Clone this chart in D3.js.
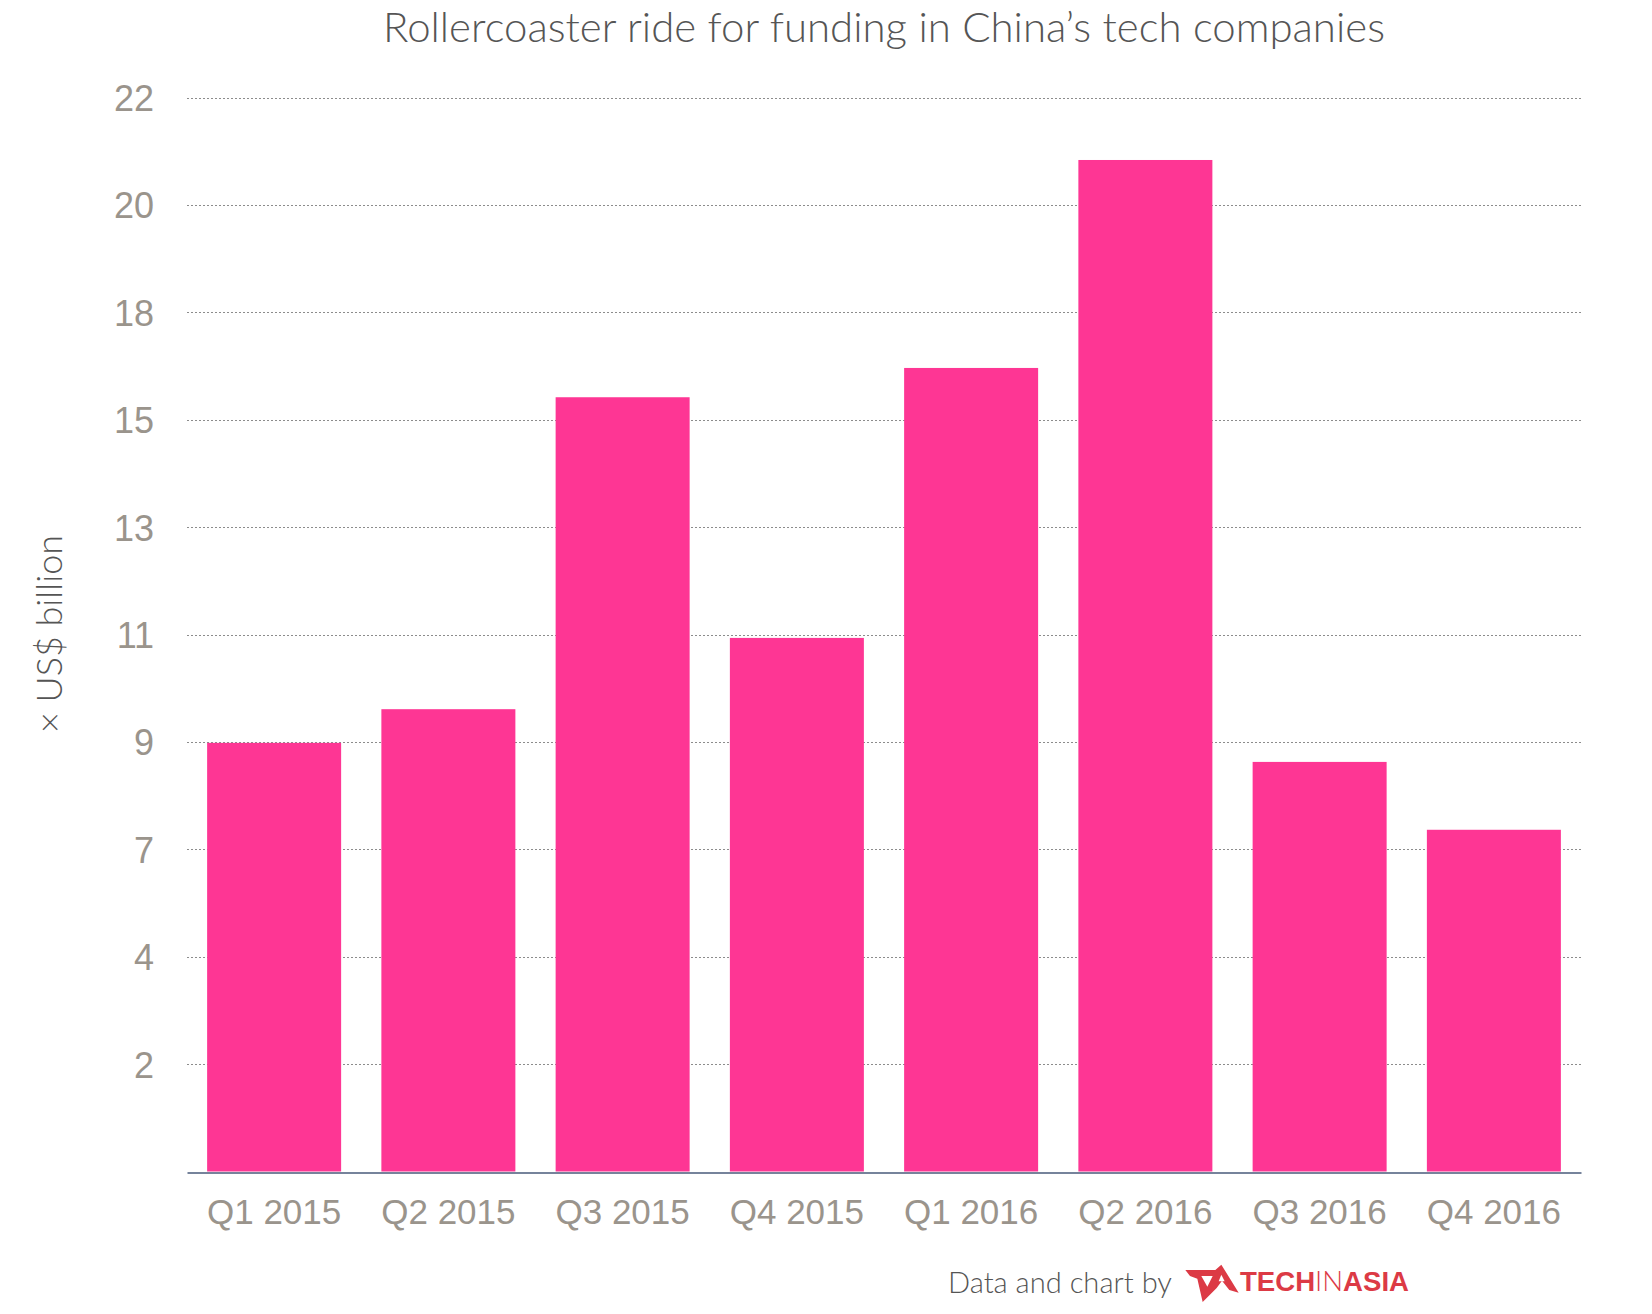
<!DOCTYPE html>
<html>
<head>
<meta charset="utf-8">
<script src="https://cdn.jsdelivr.net/npm/d3@7"></script>
<style>
  html, body { margin: 0; padding: 0; background: #fff; }
  svg { display: block; }
</style>
</head>
<body>
<svg id="chart" width="1652" height="1314"></svg>
<script>
// ---- data ----
const categories = ["Q1 2015", "Q2 2015", "Q3 2015", "Q4 2015", "Q1 2016", "Q2 2016", "Q3 2016", "Q4 2016"];
const fundingBillions = [8.78, 9.47, 15.86, 10.93, 16.46, 20.72, 8.39, 7.00];
const yTickValues = [2.2, 4.4, 6.6, 8.8, 11, 13.2, 15.4, 17.6, 19.8, 22];
const yTickLabels = ["2", "4", "7", "9", "11", "13", "15", "18", "20", "22"];
const titleText = "Rollercoaster ride for funding in China\u2019s tech companies";
const yAxisTitle = "\u00d7 US$ billion";
const creditText = "Data and chart by";

// ---- styles ----
const barColor = "#fe3694";
const tickColor = "#9a948c";
const textDark = "#555555";
const logoRed = "#dc3a45";
const gillLike = "Lato, 'Open Sans', sans-serif";
const helvLike = "'Liberation Sans', Arial, sans-serif";

const svg = d3.select("#chart");

const x = d3.scaleBand()
  .domain(categories)
  .range([187, 1581])
  .paddingInner(0.231)
  .paddingOuter(0.1155);

const y = d3.scaleLinear()
  .domain([0, 22])
  .range([1171.5, 97.5]);

function fitText(sel, targetWidth) {
  const node = sel.node();
  const fs = parseFloat(sel.attr("font-size"));
  const w = node.getComputedTextLength();
  if (w > 0) sel.attr("font-size", (fs * targetWidth / w).toFixed(2));
  return sel;
}

// gridlines
svg.append("g")
  .selectAll("line")
  .data(yTickValues)
  .join("line")
  .attr("x1", x.range()[0])
  .attr("x2", x.range()[1])
  .attr("y1", d => Math.round(y(d)) + 0.5)
  .attr("y2", d => Math.round(y(d)) + 0.5)
  .attr("stroke", "#8c8c8c")
  .attr("stroke-width", 1)
  .attr("stroke-dasharray", "2,2");

// y axis (labels only)
const yAxis = d3.axisLeft(y)
  .tickValues(yTickValues)
  .tickFormat((d, i) => yTickLabels[i])
  .tickSize(0)
  .tickPadding(0);
const yg = svg.append("g")
  .attr("transform", "translate(154,0)")
  .call(yAxis);
yg.select(".domain").remove();
yg.selectAll("text")
  .attr("fill", tickColor)
  .attr("font-family", helvLike)
  .attr("font-size", 36)
  .attr("dy", "0.36em");

// bars
svg.append("g")
  .selectAll("rect")
  .data(categories)
  .join("rect")
  .attr("x", d => x(d))
  .attr("width", x.bandwidth())
  .attr("y", (d, i) => y(fundingBillions[i]))
  .attr("height", (d, i) => y(0) - y(fundingBillions[i]))
  .attr("fill", barColor);

// x axis
const xAxis = d3.axisBottom(x).tickSize(0).tickPadding(0);
const xg = svg.append("g")
  .attr("transform", `translate(0,${y(0) + 1})`)
  .call(xAxis);
xg.select(".domain")
  .attr("stroke", "#485a7a")
  .attr("stroke-width", 1.5);
xg.selectAll("text")
  .attr("fill", tickColor)
  .attr("font-family", helvLike)
  .attr("font-size", 35)
  .attr("y", 51.5)
  .attr("dy", 0);

// title
const title = svg.append("text")
  .attr("x", 884)
  .attr("y", 42)
  .attr("text-anchor", "middle")
  .attr("fill", textDark)
  .attr("font-family", gillLike)
  .attr("font-weight", 300)
  .attr("font-size", 44)
  .text(titleText);
fitText(title, 1002);

// y axis title
const yt = svg.append("text")
  .attr("transform", "translate(62,634) rotate(-90)")
  .attr("text-anchor", "middle")
  .attr("fill", textDark)
  .attr("font-family", gillLike)
  .attr("font-weight", 300)
  .attr("font-size", 30)
  .text(yAxisTitle);
fitText(yt, 198);

// credit
const credit = svg.append("text")
  .attr("x", 948)
  .attr("y", 1293)
  .attr("fill", textDark)
  .attr("font-family", gillLike)
  .attr("font-weight", 300)
  .attr("font-size", 30)
  .text(creditText);
fitText(credit, 224);

// logo mark
const logo = svg.append("g").attr("transform", "translate(1180,1258) scale(0.3333)");
logo.append("path")
  .attr("fill", logoRed)
  .attr("d", "M16,36 L106,36 L124,20 L176,104 L148,96 L126,68 L110,90 L68,132 L52,62 L30,54 Z");
logo.append("path")
  .attr("fill", "#fff")
  .attr("d", "M64,54 L98,54 L82,86 Z");
logo.append("path")
  .attr("fill", "#fff")
  .attr("d", "M124,50 L134,70 L116,70 Z");

// logo wordmark as one text with tspans
const word = svg.append("text")
  .attr("x", 1240).attr("y", 1291)
  .attr("fill", logoRed)
  .attr("font-family", helvLike)
  .attr("font-size", 27)
  .attr("textLength", 169)
  .attr("lengthAdjust", "spacingAndGlyphs");
word.append("tspan").attr("font-weight", 700).text("TECH");
word.append("tspan").attr("font-family", "Lato, sans-serif").attr("font-weight", 300).text("IN");
word.append("tspan").attr("font-weight", 700).text("ASIA");
</script>
</body>
</html>
